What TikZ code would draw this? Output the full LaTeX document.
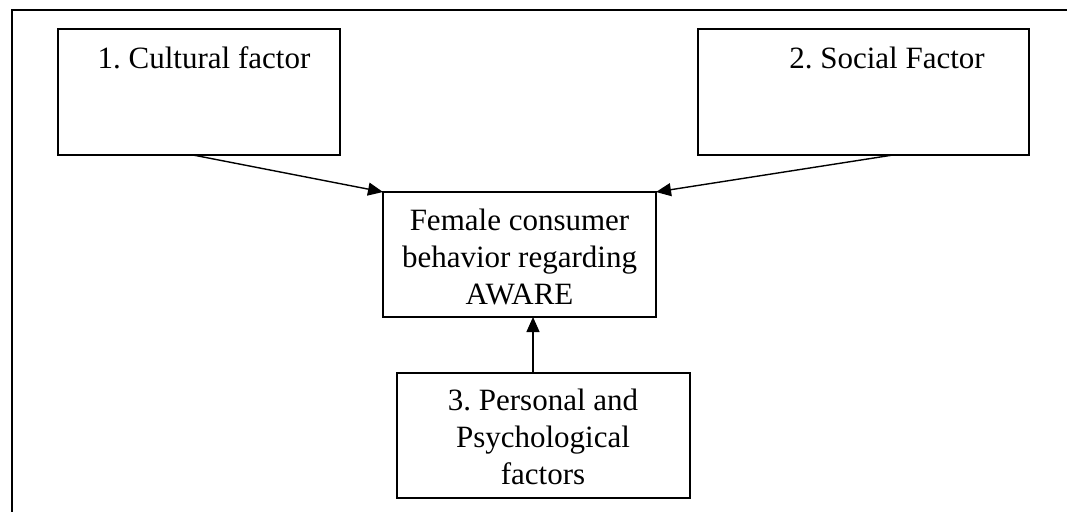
\documentclass[tikz,border=0pt]{standalone}
\usepackage{fontspec}
\setmainfont{Liberation Serif}
\usetikzlibrary{arrows.meta}
\begin{document}
\frenchspacing
\begin{tikzpicture}[x=1pt,y=-1pt,
  box/.style={draw=black,line width=1.4pt,minimum width=#1,inner sep=0pt,outer sep=0pt},
  txt/.style={anchor=base,inner sep=0pt,font=\fontsize{31}{37}\selectfont},
  arr/.style={line width=1.4pt,-{Triangle[length=15pt,width=13pt]}},
  frame/.style={line width=1.7pt}]
\useasboundingbox (0,0) rectangle (1067,512);
% outer frame (top and left sides visible)
\coordinate (fr) at (1067,10);
\coordinate (fc) at (12,10);
\coordinate (fb) at (12,512);
\draw[frame] (fr) -- (fc) -- (fb);
% boxes
\node[box=282pt,minimum height=126pt] (b1) at (199,92) {};
\node[box=331pt,minimum height=126pt] (b2) at (863.5,92) {};
\node[box=273pt,minimum height=125pt] (bc) at (519.5,254.5) {};
\node[box=293pt,minimum height=125pt] (b3) at (543.5,435.5) {};
% texts
\node[txt] (t1) at (204,68) {1. Cultural factor};
\node[txt] (t2) at (887,68) {2. Social Factor};
\node[txt] (tc1) at (519.5,230) {Female consumer};
\node[txt] (tc2) at (519.5,267) {behavior regarding};
\node[txt] (tc3) at (519.5,304) {AWARE};
\node[txt] (t31) at (543,410) {3. Personal and};
\node[txt] (t32) at (543,447) {Psychological};
\node[txt] (t33) at (543,484) {factors};
% connectors
\draw[arr] ([xshift=135pt]b1.south west) -- (bc.north west);
\draw[arr] ([xshift=195pt]b2.south west) -- (bc.north east);
\draw[arr] ([xshift=-10.5pt]b3.north) -- ([xshift=13.5pt]bc.south);
\end{tikzpicture}
\end{document}
